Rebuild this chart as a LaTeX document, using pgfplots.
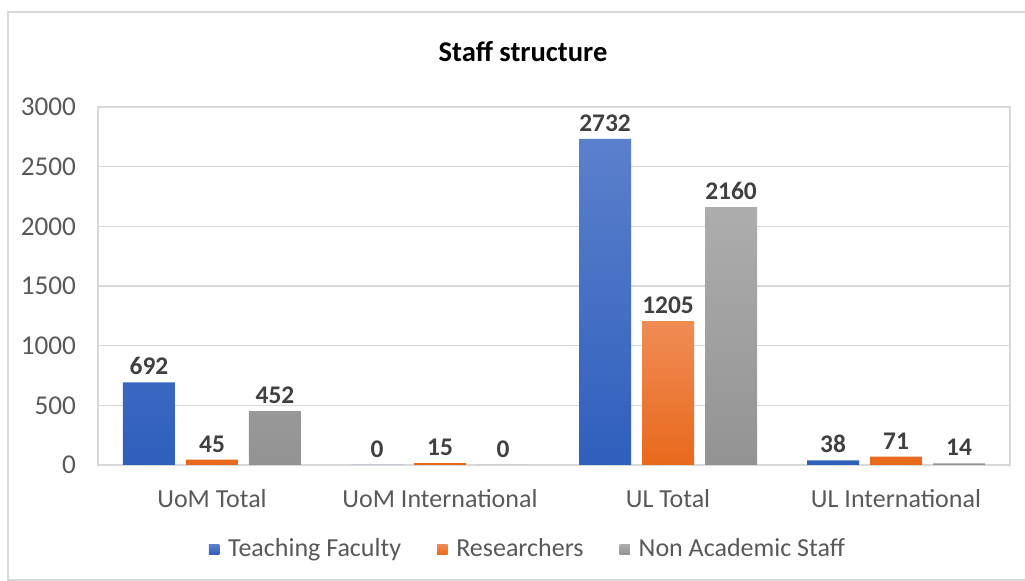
\documentclass[border=0pt]{standalone}
\usepackage{fontspec}
\setmainfont{Carlito}
\usepackage{pgfplots}
\pgfplotsset{compat=1.18}
\definecolor{tickgray}{HTML}{595959}
\definecolor{labgray}{HTML}{404040}
\definecolor{gridgray}{HTML}{D9D9D9}
\definecolor{framegray}{HTML}{D9D9D9}
\definecolor{blueTop}{HTML}{5B80CC}
\definecolor{blueBot}{HTML}{2F5FBD}
\definecolor{orTop}{HTML}{F08C55}
\definecolor{orBot}{HTML}{E8691C}
\definecolor{grTop}{HTML}{ADADAD}
\definecolor{grBot}{HTML}{939393}
\pgfplotstableread{
cat teach res nonac
0 692 45 452
1 0 15 0
2 2732 1205 2160
3 38 71 14
}\datatable
\begin{document}
\begin{tikzpicture}[x=1pt,y=1pt]
\path[use as bounding box] (0,0) rectangle (512.5,290.5);
\draw[color=framegray, line width=0.6pt] (4,0.5) rectangle (530,284.5);
\node[font=\fontsize{14.3}{16}\selectfont\bfseries, color=black] at (261.5,264.5) {Staff structure};
\begin{axis}[
  at={(49pt,58pt)}, anchor=south west, scale only axis,
  width=456pt, height=179pt,
  ybar=5.5pt, bar width=26pt,
  xmin=-0.5, xmax=3.5, ymin=0, ymax=3000,
  xtick={0,1,2,3},
  xticklabels={UoM Total, UoM International, UL Total, UL International},
  ytick={0,500,...,3000},
  ymajorgrids, grid style={color=gridgray, line width=0.75pt},
  axis line style={gridgray, line width=0.75pt},
  major tick length=0pt,
  tick label style={font=\fontsize{13}{15}\selectfont, color=tickgray},
  yticklabel style={font=\fontsize{13.6}{15}\selectfont, xshift=-7.5pt},
  /pgf/number format/assume math mode=true,
  /pgf/number format/set thousands separator={},
  xticklabel style={yshift=-8.5pt},
  nodes near coords,
  every node near coord/.append style={font=\fontsize{12.7}{14}\selectfont\bfseries, color=labgray, inner sep=3.5pt},
  legend style={at={(0.4726,-0.236)}, anchor=center, draw=none, font=\fontsize{13}{15}\selectfont, text=tickgray, /tikz/every even column/.append style={column sep=16pt}},
  legend columns=3,
  legend cell align=left,
  legend image code/.code={\path[#1, draw=none] (0pt,-2.6pt) rectangle (5.2pt,2.6pt); \path (0pt,0pt) -- (7.6pt,0pt);},
]
\addplot[draw=none, top color=blueTop, bottom color=blueBot] table[x=cat, y=teach] {\datatable};
\addplot[draw=none, top color=orTop, bottom color=orBot] table[x=cat, y=res] {\datatable};
\addplot[draw=none, top color=grTop, bottom color=grBot] table[x=cat, y=nonac] {\datatable};
\legend{Teaching Faculty, Researchers, Non Academic Staff}
\end{axis}
\end{tikzpicture}
\end{document}
